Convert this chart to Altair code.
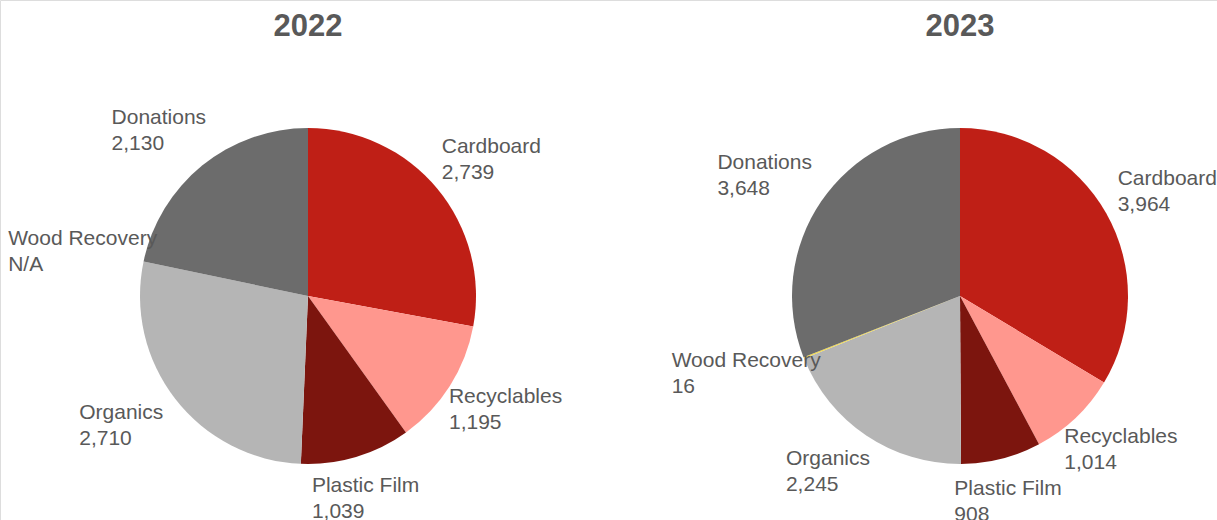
import altair as alt
import pandas as pd

years = ["2022", "2023"]
categories = ["Cardboard", "Recyclables", "Plastic Film", "Organics", "Wood Recovery", "Donations"]
values_2022 = [2739, 1195, 1039, 2710, None, 2130]
values_2023 = [3964, 1014, 908, 2245, 16, 3648]
colors = ["#BF1F16", "#FF978E", "#7C150E", "#B5B5B5", "#F2DB4C", "#6C6C6C"]

rows = []
for year, vals in zip(years, [values_2022, values_2023]):
    for i, (cat, v) in enumerate(zip(categories, vals)):
        rows.append({
            "Year": year,
            "Category": cat,
            "order": i,
            "value": 0 if v is None else v,
            "label": cat + "\n" + ("N/A" if v is None else f"{v:,}"),
            "nchar": len(cat),
        })
df = pd.DataFrame(rows)

xscale = alt.Scale(type="point", domain=years, range=[308, 960], padding=0)
TWO_PI = 6.283185307179586
RX, RY = 236, 212  # label ellipse around each pie (layout)

base = alt.Chart(df).transform_joinaggregate(
    total="sum(value)", groupby=["Year"]
).transform_window(
    cum="sum(value)", groupby=["Year"], sort=[alt.SortField("order")],
    frame=[None, 0]
).transform_calculate(
    f_end="datum.cum / datum.total",
    f_start="(datum.cum - datum.value) / datum.total",
    f_mid="(datum.cum - datum.value / 2) / datum.total",
).transform_calculate(
    x_off=f"{RX} * sin(2 * PI * datum.f_mid) - datum.nchar * 10.6 / 2",
    y_off=f"-{RY} * cos(2 * PI * datum.f_mid) - 13",
)

theta_scale = alt.Scale(domain=[0, 1], range=[0, TWO_PI])

arcs = base.mark_arc(outerRadius=168, stroke=None).encode(
    x=alt.X("Year:N", scale=xscale, axis=None),
    y=alt.value(296),
    theta=alt.Theta("f_start:Q", scale=theta_scale),
    theta2="f_end:Q",
    color=alt.Color("Category:N", scale=alt.Scale(domain=categories, range=colors), legend=None),
)

labels = base.mark_text(
    font="Liberation Sans", fontSize=21, color="#595959",
    lineBreak="\n", lineHeight=26, align="left", baseline="middle",
).encode(
    x=alt.X("Year:N", scale=xscale, axis=None),
    xOffset=alt.XOffset("x_off:Q", scale=None),
    y=alt.value(296),
    yOffset=alt.YOffset("y_off:Q", scale=None),
    text="label:N",
)

title_df = pd.DataFrame({"Year": years})
titles = alt.Chart(title_df).mark_text(
    font="Liberation Sans", fontSize=31, fontWeight="bold", color="#595959",
    baseline="middle", align="center",
).encode(
    x=alt.X("Year:N", scale=xscale, axis=None),
    y=alt.value(27),
    text="Year:N",
)

chart = alt.layer(arcs, labels, titles).properties(
    width=1217, height=520, padding=0, autosize=alt.AutoSizeParams(type="none")
).configure_view(stroke=None).configure(background="white")

chart.save("out.html", embed_options={"renderer": "svg", "actions": False})
